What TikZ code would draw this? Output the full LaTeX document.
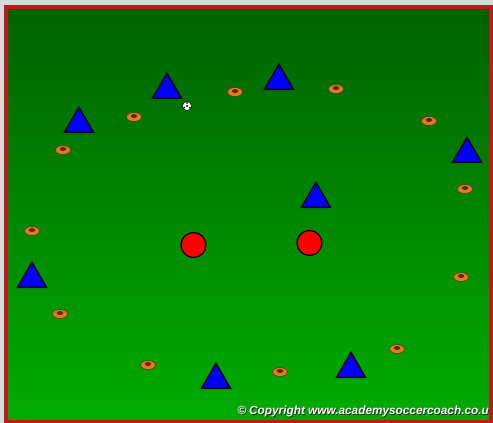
\documentclass[tikz,border=0pt]{standalone}
\usepackage{fontspec}
\newfontfamily\copyfont{Liberation Sans}
\usetikzlibrary{shapes.geometric,shadows}
\definecolor{PitchTop}{RGB}{0,98,0}
\definecolor{PitchBottom}{RGB}{0,172,0}
\definecolor{BorderRed}{RGB}{185,28,28}
\definecolor{ConeOrange}{RGB}{235,120,20}
\definecolor{ConeHole}{RGB}{80,45,10}
\definecolor{PlayerBlue}{RGB}{0,0,250}
\tikzset{
  player/.style={regular polygon, regular polygon sides=3, minimum size=33.4pt, inner sep=0pt,
    draw=black, line width=1.4pt, fill=PlayerBlue,
    drop shadow={shadow xshift=1pt, shadow yshift=-1pt, opacity=0.35}},
  cone/.style={ellipse, minimum width=15pt, minimum height=9pt, inner sep=0pt,
    draw=black!75, line width=0.6pt, fill=ConeOrange},
  conehole/.style={ellipse, minimum width=6.5pt, minimum height=4pt, inner sep=0pt, fill=ConeHole},
  coach/.style={circle, minimum size=25pt, inner sep=0pt, draw=black, line width=1.2pt, fill=red,
    drop shadow={shadow xshift=1pt, shadow yshift=-1pt, opacity=0.35}},
  ball/.style={circle, minimum size=9pt, inner sep=0pt, draw=black, line width=0.5pt, fill=white},
  copytxt/.style={anchor=base east, inner sep=0pt, font=\copyfont\bfseries\itshape\fontsize{11.8}{12}\selectfont},
}
\begin{document}
\begin{tikzpicture}[x=1pt,y=-1pt]
  \useasboundingbox (0,0) rectangle (493,423);
  \fill[gray!30] (0,0) rectangle (493,423);
  \shade[top color=PitchTop, bottom color=PitchBottom] (6,7) rectangle (491,422);
  \draw[BorderRed, line width=4.5pt] (6,7) rectangle (490.8,421.8);
  % players
  \foreach \n/\x/\y in {1/167/90, 2/79/124, 3/279/81, 4/467/154, 5/316/199, 6/32/279, 7/216/380, 8/351/369}
    \node[player] (p\n) at (\x,\y) {};
  % cones
  \foreach \n/\x/\y in {1/235/92, 2/336/89, 3/134/117, 4/63/150, 5/429/121, 6/465/189,
                       7/32/231, 8/461/277, 9/60/314, 10/397/349, 11/148/365, 12/280/372} {
    \node[cone] (c\n) at (\x,\y) {};
    \node[conehole] (h\n) at ([yshift=1pt]c\n.center) {};
  }
  % coaches
  \node[coach] (r1) at (193.5,245) {};
  \node[coach] (r2) at (309.5,243) {};
  % ball
  \node[ball] (ball) at (187,106) {};
  \fill (ball.center) circle (1.2pt);
  \foreach \a in {90,210,330}
    \fill ([shift={(\a:3.1pt)}]ball.center) circle (0.9pt);
  % copyright
  \node[copytxt, text=black!85] (cpshadow) at (489.8,415) {© Copyright www.academysoccercoach.co.u};
  \node[copytxt, text=white] (cp) at (489,414) {© Copyright www.academysoccercoach.co.u};
\end{tikzpicture}
\end{document}
